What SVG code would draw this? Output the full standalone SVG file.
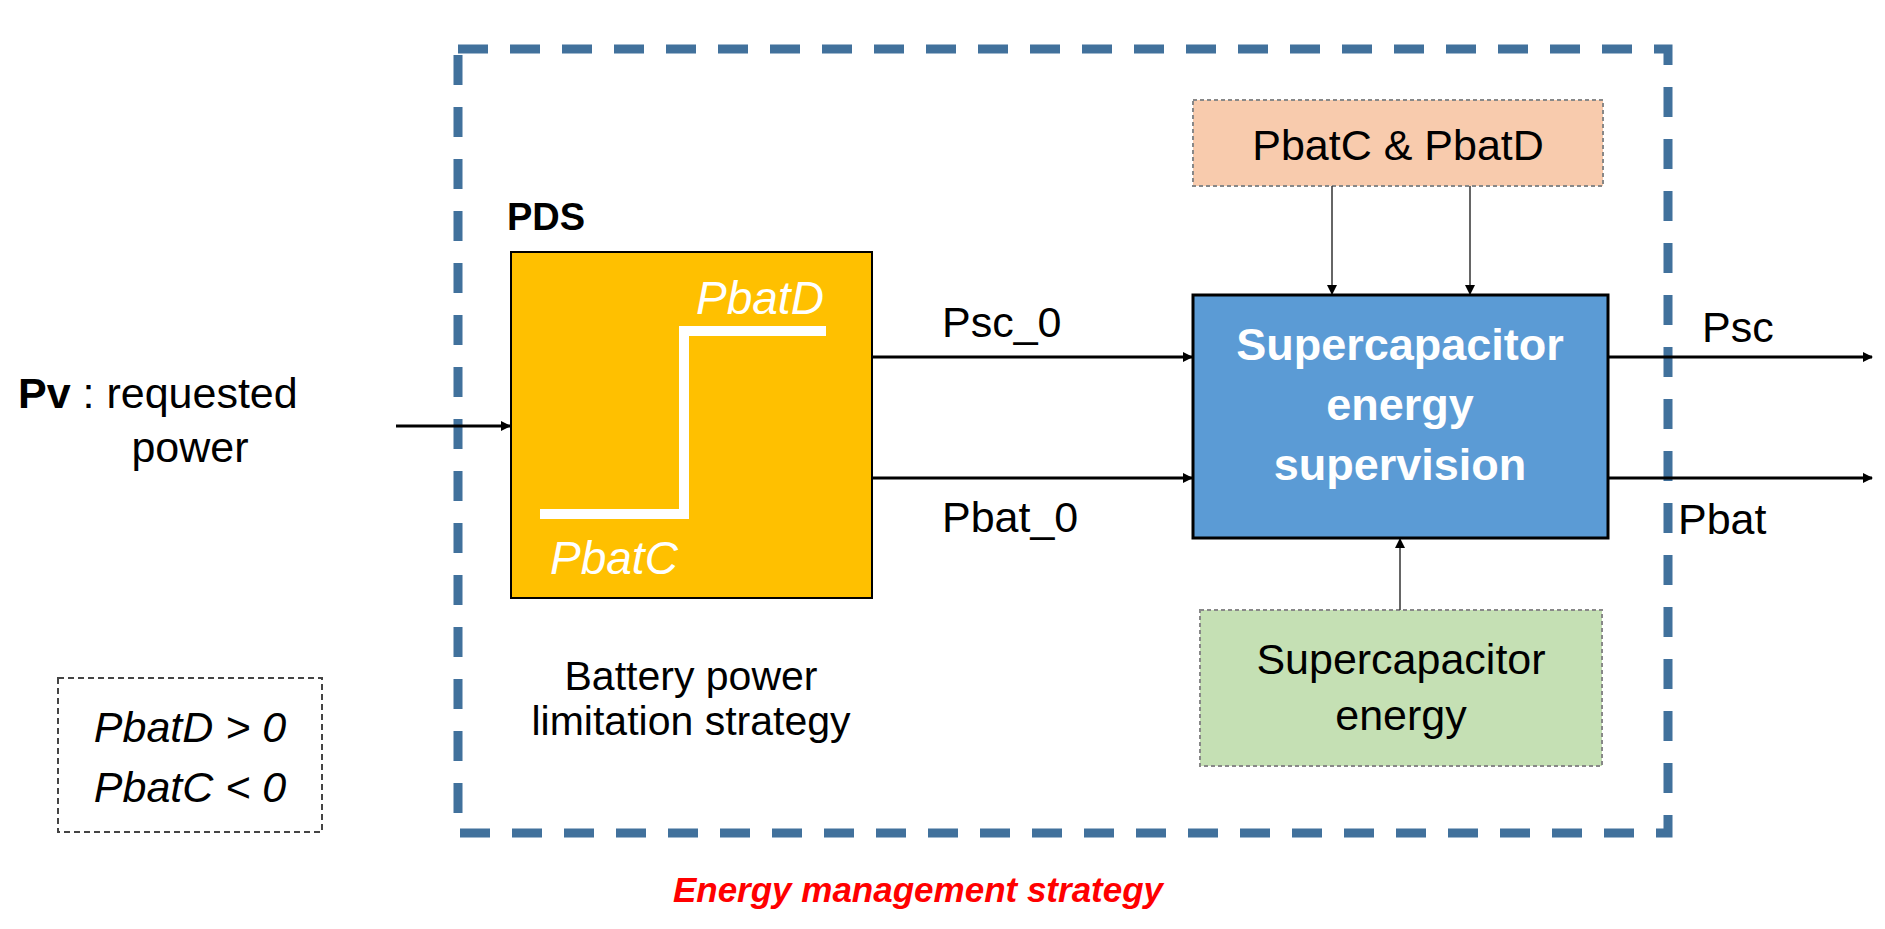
<svg xmlns="http://www.w3.org/2000/svg" width="1885" height="929" viewBox="0 0 1885 929">
<defs>
<marker id="ah" markerWidth="10" markerHeight="10" refX="9" refY="5" orient="auto" markerUnits="userSpaceOnUse"><path d="M0,0 L10,5 L0,10 z" fill="#000"/></marker>
</defs>
<style>
text{font-family:"Liberation Sans",Arial,sans-serif;font-size:43px;fill:#000}
.c{text-anchor:middle}
.w{fill:#fff}
.b{font-weight:bold}
.i{font-style:italic}
.ln{stroke:#000;stroke-width:3;fill:none}
.thin{stroke:#333;stroke-width:1.5;fill:none}
</style>
<rect x="0" y="0" width="1885" height="929" fill="#fff"/>
<g id="ems">
<rect x="458" y="49" width="1210" height="784" fill="none" stroke="#41719c" stroke-width="9" stroke-dasharray="30,22"/>
<text x="918" y="902" class="c b i" style="fill:#ff0000;font-size:35px">Energy management strategy</text>
</g>
<g id="pds">
<text x="546" y="230" class="c b" style="font-size:38px">PDS</text>
<rect x="511" y="252" width="361" height="346" fill="#ffc000" stroke="#000" stroke-width="2"/>
<polyline points="540,514 684,514 684,331 826,331" fill="none" stroke="#fff" stroke-width="10"/>
<text x="696" y="314" class="w i" style="font-size:46px">PbatD</text>
<text x="550" y="574" class="w i" style="font-size:46px">PbatC</text>
<text x="691" y="690" class="c" style="font-size:41px">Battery power</text>
<text x="691" y="735" class="c" style="font-size:41px">limitation strategy</text>
</g>
<g id="pv">
<text x="18" y="408"><tspan class="b">Pv</tspan> : requested</text>
<text x="190" y="462" class="c">power</text>
</g>
<g id="sup">
<rect x="1193" y="295" width="415" height="243" fill="#5b9bd5" stroke="#000" stroke-width="3"/>
<text x="1400" y="360" class="c w b" style="font-size:45px">Supercapacitor</text>
<text x="1400" y="420" class="c w b" style="font-size:45px">energy</text>
<text x="1400" y="480" class="c w b" style="font-size:45px">supervision</text>
</g>
<g id="limits">
<rect x="1193" y="100" width="410" height="86" fill="#f8cbad" stroke="#888" stroke-width="2" stroke-dasharray="4,3"/>
<text x="1398" y="160" class="c">PbatC &amp; PbatD</text>
</g>
<g id="scenergy">
<rect x="1200" y="610" width="402" height="156" fill="#c5e0b4" stroke="#888" stroke-width="2" stroke-dasharray="4,3"/>
<text x="1401" y="674" class="c">Supercapacitor</text>
<text x="1401" y="730" class="c">energy</text>
</g>
<g id="legend">
<rect x="58" y="678" width="264" height="154" fill="none" stroke="#444" stroke-width="2" stroke-dasharray="6,4"/>
<text x="190" y="742" class="c i">PbatD &gt; 0</text>
<text x="190" y="802" class="c i">PbatC &lt; 0</text>
</g>
<g id="connectors">
<line x1="396" y1="426" x2="510" y2="426" class="ln" marker-end="url(#ah)"/>
<line x1="872" y1="357" x2="1192" y2="357" class="ln" marker-end="url(#ah)"/>
<line x1="872" y1="478" x2="1192" y2="478" class="ln" marker-end="url(#ah)"/>
<line x1="1608" y1="357" x2="1872" y2="357" class="ln" marker-end="url(#ah)"/>
<line x1="1608" y1="478" x2="1872" y2="478" class="ln" marker-end="url(#ah)"/>
<line x1="1332" y1="186" x2="1332" y2="294" class="thin" marker-end="url(#ah)"/>
<line x1="1470" y1="186" x2="1470" y2="294" class="thin" marker-end="url(#ah)"/>
<line x1="1400" y1="610" x2="1400" y2="539" class="thin" marker-end="url(#ah)"/>
<text x="942" y="337">Psc_0</text>
<text x="942" y="532">Pbat_0</text>
<text x="1702" y="342">Psc</text>
<text x="1678" y="534">Pbat</text>
</g>
</svg>
